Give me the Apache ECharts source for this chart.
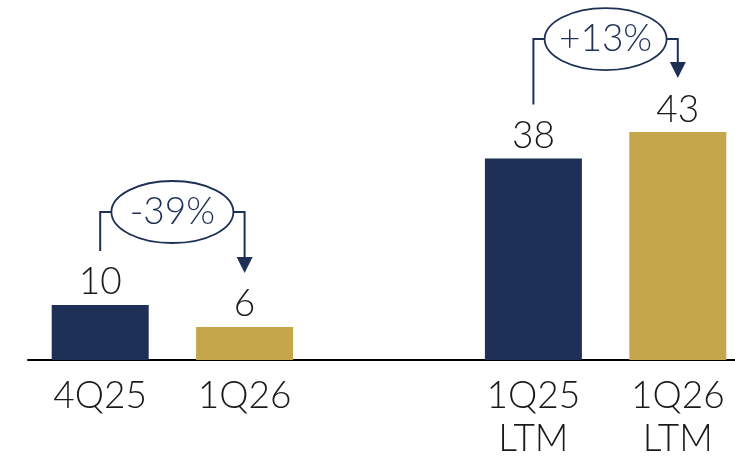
<!DOCTYPE html>
<html>
<head>
<meta charset="utf-8">
<script src="https://cdn.jsdelivr.net/npm/echarts@6/dist/echarts.min.js"></script>
<style>
html,body{margin:0;padding:0;background:#fff;}
#c{width:735px;height:457px;}
</style>
</head>
<body>
<div id="c"></div>
<script>
// ---- data ----
const categories = ['4Q25', '1Q26', '', '1Q25\nLTM', '1Q26\nLTM'];
const quarterValues = [10, 6, null, null, null];
const ltmValues = [null, null, null, 38, 43];
const changeLabels = ['-39%', '+13%'];
const changeFrom = [0, 3];
const changeTo = [1, 4];

// ---- styles ----
const NAVY = '#1E3056';
const GOLD = '#C6A64B';
const FONT = 'Lato';
const FS = 37;

const chart = echarts.init(document.getElementById('c'), null, {renderer: 'canvas'});

function colorFor(p) { return (p.dataIndex === 0 || p.dataIndex === 3) ? NAVY : GOLD; }

const labelCfg = {
  show: true, position: 'top', distance: 4,
  fontFamily: FONT, fontWeight: 300, fontSize: FS, color: '#1a1a1a'
};

chart.setOption({
  animation: false,
  grid: {left: 28, width: 722, top: 95, bottom: 97, outerBoundsMode: 'none', containLabel: false},
  xAxis: {
    type: 'category', data: categories,
    axisLine: {show: true, lineStyle: {color: '#000', width: 2}},
    axisTick: {show: false},
    axisLabel: {
      interval: 0, margin: 15, fontFamily: FONT, fontWeight: 300, fontSize: FS,
      lineHeight: 43, color: '#1a1a1a'
    }
  },
  yAxis: [
    {type: 'value', min: 0, max: 48.2, show: false, splitLine: {show: false}},
    {type: 'value', min: 0, max: 50, show: false, splitLine: {show: false}}
  ],
  series: [
    {type: 'bar', yAxisIndex: 0, data: quarterValues.map(v => v === null ? '-' : v),
     barWidth: 97, barGap: '-100%', itemStyle: {color: colorFor}, label: labelCfg},
    {type: 'bar', yAxisIndex: 1, data: ltmValues.map(v => v === null ? '-' : v),
     barWidth: 97, barGap: '-100%', itemStyle: {color: colorFor}, label: labelCfg}
  ]
});

function topOf(idx) {
  if (quarterValues[idx] !== null) return chart.convertToPixel({seriesIndex: 0}, [idx, quarterValues[idx]]);
  return chart.convertToPixel({seriesIndex: 1}, [idx, ltmValues[idx]]);
}

const graphics = [];
for (let k = 0; k < changeLabels.length; k++) {
  const a = topOf(changeFrom[k]);
  const b = topOf(changeTo[k]);
  const startY = a[1] - 54;
  const tipY = b[1] - 54;
  const by = Math.min(startY, tipY) - 39;
  const cx = (a[0] + b[0]) / 2;
  const rx = 61, ry = 31;
  const lineStyle = {stroke: NAVY, lineWidth: 2, fill: null};
  graphics.push({type: 'polyline', shape: {points: [[a[0], startY], [a[0], by], [cx - rx, by]]}, style: lineStyle});
  graphics.push({type: 'polyline', shape: {points: [[cx + rx, by], [b[0], by], [b[0], tipY - 14]]}, style: lineStyle});
  graphics.push({type: 'polygon', shape: {points: [[b[0] - 8, tipY - 16], [b[0] + 8, tipY - 16], [b[0], tipY]]}, style: {fill: NAVY}});
  graphics.push({type: 'ellipse', shape: {cx: cx, cy: by, rx: rx, ry: ry}, style: {stroke: NAVY, lineWidth: 1.8, fill: '#fff'}});
  graphics.push({type: 'text', x: cx, y: by, style: {
    text: changeLabels[k], fontFamily: FONT, fontWeight: 300, fontSize: FS, fill: NAVY,
    align: 'center', verticalAlign: 'middle'
  }});
}
chart.setOption({graphic: graphics});
</script>
</body>
</html>
